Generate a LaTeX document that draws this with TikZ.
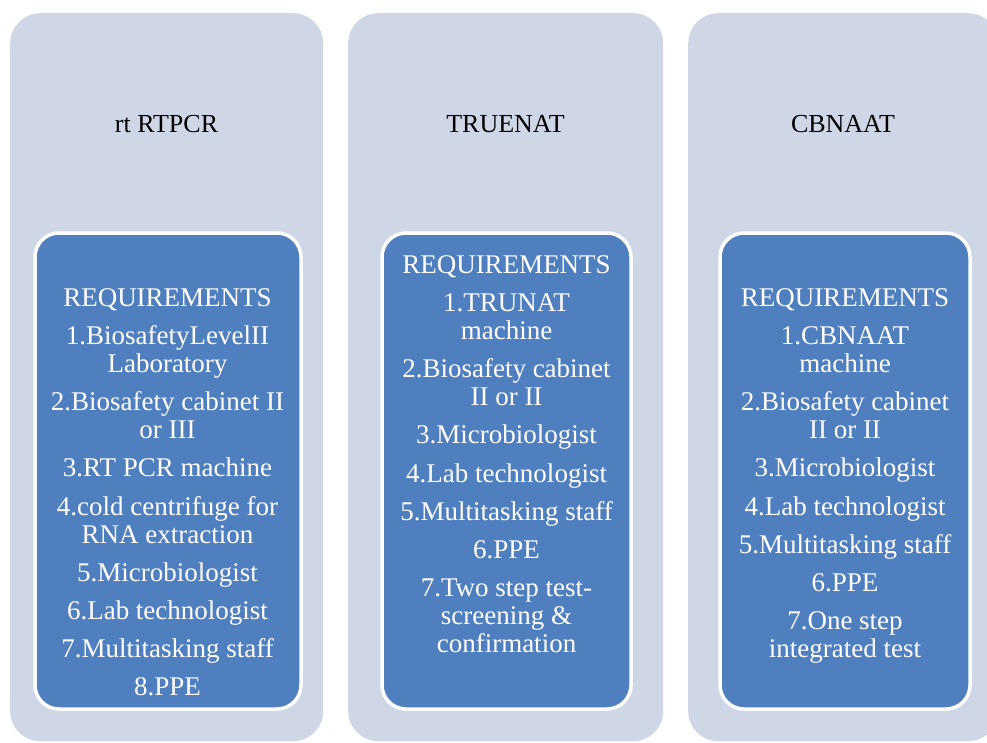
\documentclass[tikz,border=0pt]{standalone}
\usepackage{fontspec}
\setmainfont{Liberation Serif}
\definecolor{panelgray}{HTML}{CFD6E6}
\definecolor{reqblue}{HTML}{4F7FBE}

\begin{document}
\begin{tikzpicture}[x=1pt,y=-1pt,
  panel/.style={fill=panelgray, draw=none, rounded corners=30pt, inner sep=0pt,
    anchor=north west, minimum height=728pt},
  reqbox/.style={fill=reqblue, draw=white, line width=3.5pt, rounded corners=24pt,
    inner sep=0pt, minimum height=476pt},
  title/.style={anchor=base, inner sep=0pt, text=black,
    font=\fontsize{26}{30}\selectfont},
  reqtext/.style={anchor=north, inner sep=0pt, align=center, text=white,
    font=\fontsize{27}{28.3}\selectfont}]

\useasboundingbox (0,0) rectangle (987,742);
\clip (0,0) rectangle (987,742);

% background columns
\node[panel, minimum width=313pt] (colA) at (10,13) {};
\node[panel, minimum width=315pt] (colB) at (348,13) {};
\node[panel, minimum width=310pt] (colC) at (688,13) {};

% column headings
\node[title] (titleA) at (166.5,132) {rt RTPCR};
\node[title] (titleB) at (505.5,132) {TRUENAT};
\node[title] (titleC) at (843,132) {CBNAAT};

% requirement boxes
\node[reqbox, minimum width=266pt] (boxA) at (168,471) {};
\node[reqbox, minimum width=249pt] (boxB) at (506.5,471) {};
\node[reqbox, minimum width=250pt] (boxC) at (845,471) {};

% requirement lists
\node[reqtext] (listA) at (167.5,288) {REQUIREMENTS\\[9.8pt]
  1.BiosafetyLevelII\\ Laboratory\\[9.8pt]
  2.Biosafety cabinet II\\ or III\\[9.8pt]
  3.RT PCR machine\\[9.8pt]
  4.cold centrifuge for\\ RNA extraction\\[9.8pt]
  5.Microbiologist\\[9.8pt]
  6.Lab technologist\\[9.8pt]
  7.Multitasking staff\\[9.8pt]
  8.PPE};

\node[reqtext] (listB) at (506.5,255) {REQUIREMENTS\\[9.8pt]
  1.TRUNAT\\ machine\\[9.8pt]
  2.Biosafety cabinet\\ II or II\\[9.8pt]
  3.Microbiologist\\[9.8pt]
  4.Lab technologist\\[9.8pt]
  5.Multitasking staff\\[9.8pt]
  6.PPE\\[9.8pt]
  7.Two step test-\\ screening \&\\ confirmation};

\node[reqtext] (listC) at (845,288) {REQUIREMENTS\\[9.8pt]
  1.CBNAAT\\ machine\\[9.8pt]
  2.Biosafety cabinet\\ II or II\\[9.8pt]
  3.Microbiologist\\[9.8pt]
  4.Lab technologist\\[9.8pt]
  5.Multitasking staff\\[9.8pt]
  6.PPE\\[9.8pt]
  7.One step\\ integrated test};
\end{tikzpicture}
\end{document}
